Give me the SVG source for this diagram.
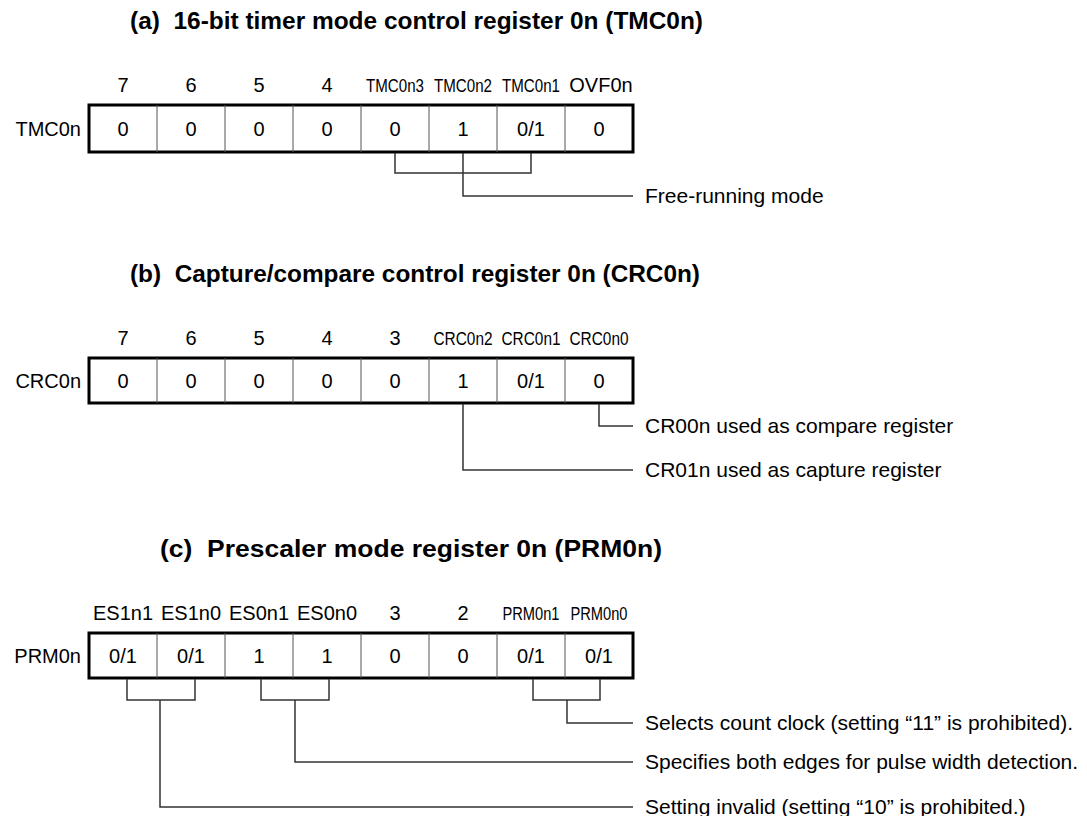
<svg xmlns="http://www.w3.org/2000/svg" width="1087" height="816" viewBox="0 0 1087 816">
<style>
text{font-family:"Liberation Sans",Arial,Helvetica,sans-serif;fill:#000}
.title{font-size:24px;font-weight:bold;white-space:pre}
.bit{font-size:20px;text-anchor:middle}
.nar{font-size:18px;text-anchor:middle}
.val{font-size:20px;text-anchor:middle}
.name{font-size:20px;text-anchor:end}
.desc{font-size:21px}
.box{fill:#fff;stroke:#000;stroke-width:3}
.div{stroke:#555;stroke-width:1}
.conn{fill:none;stroke:#333;stroke-width:1.5}
</style>
<rect width="1087" height="816" fill="#fff"/>

<g id="regA">
<text class="title" x="130" y="29" textLength="573" lengthAdjust="spacingAndGlyphs">(a)  16-bit timer mode control register 0n (TMC0n)</text>
<text class="bit" x="123" y="92">7</text>
<text class="bit" x="191" y="92">6</text>
<text class="bit" x="259" y="92">5</text>
<text class="bit" x="327" y="92">4</text>
<text class="nar" x="395" y="92" textLength="58" lengthAdjust="spacingAndGlyphs">TMC0n3</text>
<text class="nar" x="463" y="92" textLength="58" lengthAdjust="spacingAndGlyphs">TMC0n2</text>
<text class="nar" x="531" y="92" textLength="58" lengthAdjust="spacingAndGlyphs">TMC0n1</text>
<text class="bit" x="601" y="92">OVF0n</text>
<text class="name" x="81" y="136">TMC0n</text>
<rect class="box" x="89" y="105" width="544" height="47"/>
<path class="div" d="M157 105V152M225 105V152M293 105V152M361 105V152M429 105V152M497 105V152M565 105V152"/>
<text class="val" x="123" y="136">0</text>
<text class="val" x="191" y="136">0</text>
<text class="val" x="259" y="136">0</text>
<text class="val" x="327" y="136">0</text>
<text class="val" x="395" y="136">0</text>
<text class="val" x="463" y="136">1</text>
<text class="val" x="531" y="136">0/1</text>
<text class="val" x="599" y="136">0</text>
</g>

<g id="regB">
<text class="title" x="130" y="282" textLength="570" lengthAdjust="spacingAndGlyphs">(b)  Capture/compare control register 0n (CRC0n)</text>
<text class="bit" x="123" y="345">7</text>
<text class="bit" x="191" y="345">6</text>
<text class="bit" x="259" y="345">5</text>
<text class="bit" x="327" y="345">4</text>
<text class="bit" x="395" y="345">3</text>
<text class="nar" x="463" y="345" textLength="59" lengthAdjust="spacingAndGlyphs">CRC0n2</text>
<text class="nar" x="531" y="345" textLength="59" lengthAdjust="spacingAndGlyphs">CRC0n1</text>
<text class="nar" x="599" y="345" textLength="59" lengthAdjust="spacingAndGlyphs">CRC0n0</text>
<text class="name" x="81" y="388">CRC0n</text>
<rect class="box" x="89" y="358" width="544" height="45"/>
<path class="div" d="M157 358V403M225 358V403M293 358V403M361 358V403M429 358V403M497 358V403M565 358V403"/>
<text class="val" x="123" y="388">0</text>
<text class="val" x="191" y="388">0</text>
<text class="val" x="259" y="388">0</text>
<text class="val" x="327" y="388">0</text>
<text class="val" x="395" y="388">0</text>
<text class="val" x="463" y="388">1</text>
<text class="val" x="531" y="388">0/1</text>
<text class="val" x="599" y="388">0</text>
</g>

<g id="regC">
<text class="title" x="160" y="557" textLength="502" lengthAdjust="spacingAndGlyphs">(c)  Prescaler mode register 0n (PRM0n)</text>
<text class="bit" x="123" y="620">ES1n1</text>
<text class="bit" x="191" y="620">ES1n0</text>
<text class="bit" x="259" y="620">ES0n1</text>
<text class="bit" x="327" y="620">ES0n0</text>
<text class="bit" x="395" y="620">3</text>
<text class="bit" x="463" y="620">2</text>
<text class="nar" x="531" y="620" textLength="57" lengthAdjust="spacingAndGlyphs">PRM0n1</text>
<text class="nar" x="599" y="620" textLength="57" lengthAdjust="spacingAndGlyphs">PRM0n0</text>
<text class="name" x="81" y="663">PRM0n</text>
<rect class="box" x="89" y="633" width="544" height="45"/>
<path class="div" d="M157 633V678M225 633V678M293 633V678M361 633V678M429 633V678M497 633V678M565 633V678"/>
<text class="val" x="123" y="663">0/1</text>
<text class="val" x="191" y="663">0/1</text>
<text class="val" x="259" y="663">1</text>
<text class="val" x="327" y="663">1</text>
<text class="val" x="395" y="663">0</text>
<text class="val" x="463" y="663">0</text>
<text class="val" x="531" y="663">0/1</text>
<text class="val" x="599" y="663">0/1</text>
</g>

<g id="connectors">
<path class="conn" d="M395 153V173H531V153"/>
<path class="conn" d="M463 153V196H633"/>
<path class="conn" d="M599 404V426H633"/>
<path class="conn" d="M463 404V470H633"/>
<path class="conn" d="M127 679V700H195V679"/>
<path class="conn" d="M261 679V700H329V679"/>
<path class="conn" d="M533 679V700H600V679"/>
<path class="conn" d="M567 700V723H633"/>
<path class="conn" d="M295 700V762H633"/>
<path class="conn" d="M160 700V807H633"/>
</g>

<g id="labels">
<text class="desc" x="645" y="203">Free-running mode</text>
<text class="desc" x="645" y="433">CR00n used as compare register</text>
<text class="desc" x="645" y="477">CR01n used as capture register</text>
<text class="desc" x="645" y="730">Selects count clock (setting “11” is prohibited).</text>
<text class="desc" x="645" y="769">Specifies both edges for pulse width detection.</text>
<text class="desc" x="645" y="814">Setting invalid (setting “10” is prohibited.)</text>
</g>
</svg>
